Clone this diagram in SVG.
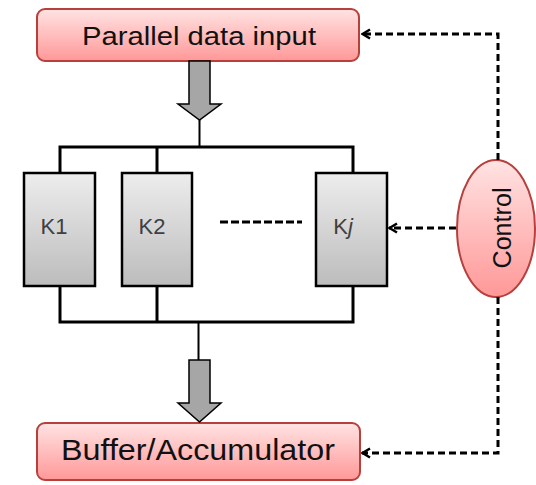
<svg xmlns="http://www.w3.org/2000/svg" width="536" height="485" viewBox="0 0 536 485">
<defs>
<linearGradient id="pink" x1="0" y1="0" x2="0" y2="1">
<stop offset="0" stop-color="#ffe3e3"/>
<stop offset="1" stop-color="#ff9898"/>
</linearGradient>
<linearGradient id="gray" x1="0" y1="0" x2="0" y2="1">
<stop offset="0" stop-color="#ededed"/>
<stop offset="1" stop-color="#bcbcbc"/>
</linearGradient>
<marker id="arr" viewBox="0 0 12 12" refX="11" refY="6" markerWidth="12" markerHeight="12" markerUnits="userSpaceOnUse" orient="auto">
<path d="M3,1.5 L10.5,6 L3,10.5" fill="none" stroke="#000" stroke-width="2.5"/>
</marker>
<style>
.pbox{fill:url(#pink);stroke:#b8403c;stroke-width:2}
.kbox{fill:url(#gray);stroke:#000;stroke-width:2.5}
.bus{fill:none;stroke:#000;stroke-width:3}
.thin{fill:none;stroke:#000;stroke-width:2}
.dash{fill:none;stroke:#000;stroke-width:3;stroke-dasharray:7,4}
.garrow{fill:#a6a6a6;stroke:#000;stroke-width:1.5}
.t{font-family:"Liberation Sans",Arial,sans-serif;fill:#111}
.k{font-family:"Liberation Sans",Arial,sans-serif;fill:#404040;font-size:22px}
</style>
</defs>
<g id="parallel-input">
<rect class="pbox" x="37" y="9" width="322" height="52" rx="8"/>
<text class="t" x="199" y="45" font-size="26" text-anchor="middle" textLength="234" lengthAdjust="spacingAndGlyphs">Parallel data input</text>
</g>
<g id="K1">
<rect class="kbox" x="24" y="173" width="71" height="113"/>
<text class="k" x="54" y="234" text-anchor="middle">K1</text>
</g>
<g id="K2">
<rect class="kbox" x="122" y="173" width="70" height="113"/>
<text class="k" x="152" y="234" text-anchor="middle">K2</text>
</g>
<g id="Kj">
<rect class="kbox" x="316" y="173" width="71" height="113"/>
<text class="k" x="343" y="234" text-anchor="middle">K<tspan font-style="italic">j</tspan></text>
</g>
<g id="control">
<ellipse cx="496" cy="228.5" rx="39" ry="68.5" fill="url(#pink)" stroke="#b5403d" stroke-width="2"/>
<text class="t" transform="translate(511,228) rotate(-90)" x="0" y="0" font-size="26" fill="#333" text-anchor="middle" textLength="81" lengthAdjust="spacingAndGlyphs">Control</text>
</g>
<g id="buffer">
<rect class="pbox" x="37" y="423" width="323" height="57" rx="8"/>
<text class="t" x="198" y="460" font-size="29" text-anchor="middle" textLength="274" lengthAdjust="spacingAndGlyphs">Buffer/Accumulator</text>
</g>
<g id="connectors">
<polygon class="garrow" points="189,61 210,61 210,104 221,104 199.5,120 178,104 189,104"/>
<line class="thin" x1="199.5" y1="120" x2="199.5" y2="147"/>
<path class="bus" d="M60,173 V147 H353 V173 M157,147 V173"/>
<path class="bus" d="M60,286 V322 H353 V286 M157,286 V322"/>
<line class="thin" x1="198.5" y1="322" x2="198.5" y2="360"/>
<polygon class="garrow" points="189,360 210,360 210,403 221,403 199.5,422 178,403 189,403"/>
<line x1="220" y1="222" x2="302" y2="222" stroke="#000" stroke-width="3" stroke-dasharray="8,3"/>
<path class="dash" d="M498,160 V34 H362" marker-end="url(#arr)"/>
<path class="dash" d="M456,228 H389" marker-end="url(#arr)"/>
<path class="dash" d="M498,297 V453 H362" marker-end="url(#arr)"/>
</g>
</svg>
